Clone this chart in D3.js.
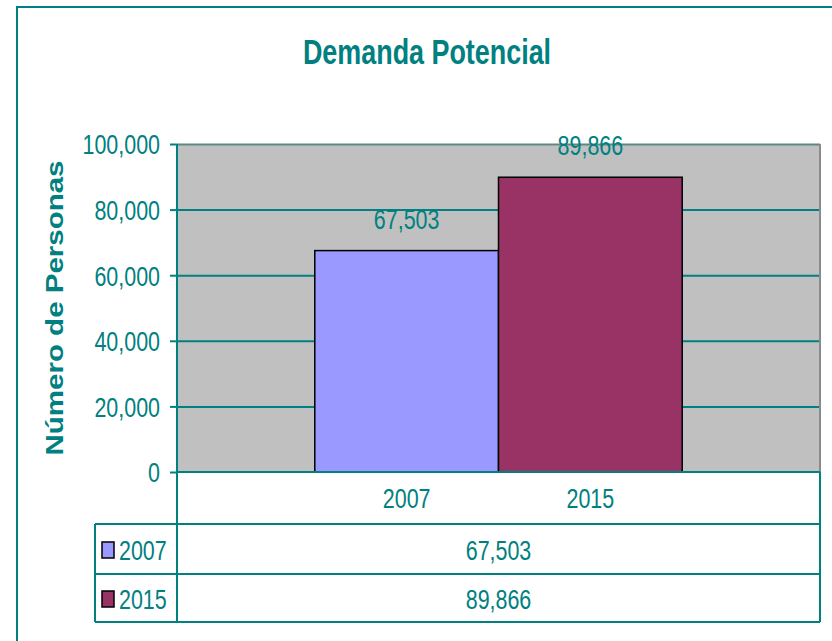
<!DOCTYPE html>
<html>
<head>
<meta charset="utf-8">
<script src="https://cdn.jsdelivr.net/npm/d3@7"></script>
<style>
  body { margin: 0; background: #fff; }
  svg { display: block; }
  text { font-family: "Liberation Sans", Arial, sans-serif; fill: #008080; }
</style>
</head>
<body>
<div id="chart"></div>
<script>
// chart data
var years = ["2007", "2015"];
var values = [67503, 89866];
var yTicks = [0, 20000, 40000, 60000, 80000, 100000];
var titleText = "Demanda Potencial";
var yTitle = "Número de Personas";

var W = 832, H = 641;
var teal = "#008080";
var barColors = {"2007": "#9999FF", "2015": "#993366"};
var sq = 0.78; // the original picture is squeezed horizontally
var fs = 27.5;

// plot area
var margin = {left: 177, right: 12, top: 144, bottom: 169};
var width = W - margin.left - margin.right,
    height = H - margin.top - margin.bottom;

var svg = d3.select("#chart").append("svg")
  .attr("width", W)
  .attr("height", H);

// helper for squeezed text
function sText(parent, x, y, str, size, anchor, weight, rot) {
  var tr = "translate(" + x + "," + y + ") scale(" + sq + ",1)" + (rot ? " rotate(" + rot + ")" : "");
  return parent.append("text")
    .attr("transform", tr)
    .attr("text-anchor", anchor || "middle")
    .style("font-size", size + "px")
    .style("font-weight", weight || "normal")
    .text(str);
}

// outer frame
svg.append("path")
  .attr("d", "M17," + H + "V7H" + W)
  .attr("fill", "none")
  .attr("stroke", teal)
  .attr("stroke-width", 2);

sText(svg, 427, 64, titleText, 34.5, "middle", "bold");
sText(svg, 63, 308, yTitle, 29.5, "middle", "bold", -90);

var g = svg.append("g")
  .attr("transform", "translate(" + margin.left + "," + margin.top + ")");

var x = d3.scaleBand()
  .domain(years)
  .range([0, width])
  .paddingInner(0)
  .paddingOuter(0.75);

var y = d3.scaleLinear()
  .domain([0, 100000])
  .range([height, 0]);

// background
g.append("rect")
  .attr("width", width)
  .attr("height", height)
  .attr("fill", "#C0C0C0");

// gridlines
g.append("g")
  .attr("class", "grid")
  .call(d3.axisLeft(y).tickValues(yTicks.slice(1)).tickSize(-width).tickFormat(""))
  .call(function(s) { s.select(".domain").remove(); })
  .selectAll(".tick line")
  .attr("stroke", function(d) { return d === 100000 ? "#5f8884" : teal; })
  .attr("stroke-width", 2);

// right border
g.append("line")
  .attr("x1", width).attr("x2", width)
  .attr("y1", 0).attr("y2", height)
  .attr("stroke", "#8a8a8a")
  .attr("stroke-width", 2);

// bars
g.selectAll(".bar")
  .data(years)
  .enter().append("rect")
  .attr("class", "bar")
  .attr("x", function(d) { return x(d); })
  .attr("width", x.bandwidth())
  .attr("y", function(d, i) { return y(values[i]); })
  .attr("height", function(d, i) { return height - y(values[i]); })
  .attr("fill", function(d) { return barColors[d]; })
  .attr("stroke", "#000")
  .attr("stroke-width", 1.5);

// value labels
years.forEach(function(d, i) {
  sText(g, x(d) + x.bandwidth() / 2, y(values[i]) - 22, d3.format(",")(values[i]), fs);
});

// y axis
var yAxis = g.append("g")
  .call(d3.axisLeft(y).tickValues(yTicks).tickSize(7).tickPadding(0).tickFormat(d3.format(",")));
yAxis.select(".domain").remove();
yAxis.selectAll(".tick line").attr("stroke", teal).attr("stroke-width", 2);
yAxis.selectAll(".tick text")
  .attr("x", -17 / sq)
  .attr("dy", "0.36em")
  .attr("transform", "scale(" + sq + ",1)")
  .style("font-size", fs + "px")
  .attr("fill", teal);

// category row + data table
var rowTop = height + 52, rowH = 50;
var tbl = g.append("g");

years.forEach(function(d) {
  sText(tbl, x(d) + x.bandwidth() / 2, height + 36, d, fs);
});

var lines = [
  [0, height, width, height],
  [0, 0, 0, rowTop + 2 * rowH - 2],
  [width, height, width, rowTop + 2 * rowH - 2],
  [-82, rowTop, width, rowTop],
  [-82, rowTop + rowH, width, rowTop + rowH],
  [-82, rowTop + 2 * rowH - 2, width, rowTop + 2 * rowH - 2],
  [-82, rowTop, -82, rowTop + 2 * rowH - 2]
];
tbl.selectAll("line.tb")
  .data(lines)
  .enter().append("line")
  .attr("class", "tb")
  .attr("x1", function(d) { return d[0]; })
  .attr("y1", function(d) { return d[1]; })
  .attr("x2", function(d) { return d[2]; })
  .attr("y2", function(d) { return d[3]; })
  .attr("stroke", teal)
  .attr("stroke-width", 2);

years.forEach(function(d, i) {
  var cy = rowTop + i * rowH + (i === 0 ? 26 : 25);
  tbl.append("rect")
    .attr("x", -75).attr("y", cy - 8)
    .attr("width", 12).attr("height", 16)
    .attr("fill", barColors[d])
    .attr("stroke", "#000")
    .attr("stroke-width", 1.5);
  sText(tbl, -58, cy + 10, d, fs, "start");
  sText(tbl, width / 2, cy + 10, d3.format(",")(values[i]), fs);
});
</script>
</body>
</html>
